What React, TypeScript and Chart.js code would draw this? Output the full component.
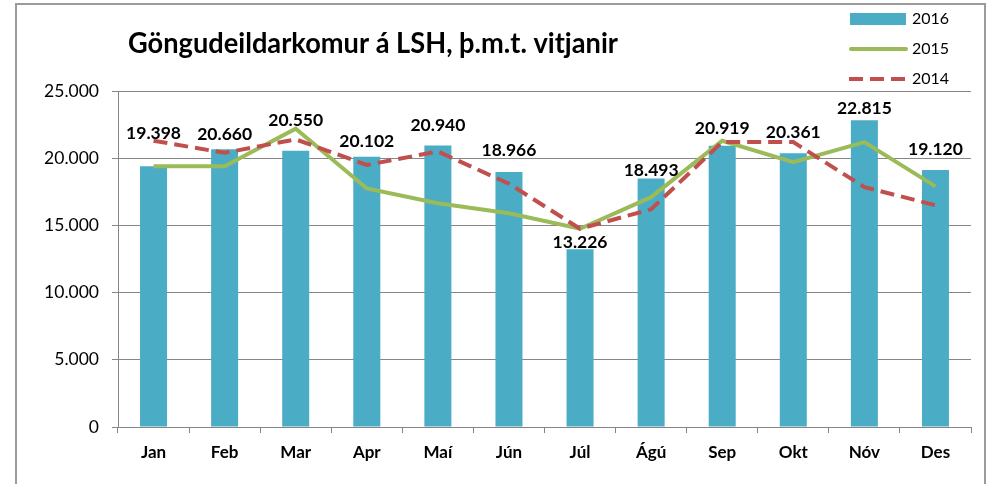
import React, { useEffect, useRef } from "react";
import { Chart, registerables } from "chart.js";

Chart.register(...registerables);

// ---- data ----
const months = ["Jan", "Feb", "Mar", "Apr", "Maí", "Jún", "Júl", "Ágú", "Sep", "Okt", "Nóv", "Des"];
const visits2016 = [19398, 20660, 20550, 20102, 20940, 18966, 13226, 18493, 20919, 20361, 22815, 19120];
const visits2015 = [19400, 19400, 22200, 17750, 16650, 15900, 14750, 17100, 21300, 19700, 21200, 17900];
const visits2014 = [21300, 20400, 21400, 19500, 20500, 18100, 14750, 16200, 21200, 21200, 17850, 16500];
const yTicks = [0, 5000, 10000, 15000, 20000, 25000];
const titleText = "Göngudeildarkomur á LSH, þ.m.t. vitjanir";

// ---- layout (label lift above each bar, px) ----
const labelLift = [33, 15, 30, 15, 20, 22, 7, 8, 17, 21, 12, 21];

const FONT = "Lato, 'Noto Sans', sans-serif";
const GRID = "#868686";
const BAR = "#4BACC6";
const GREEN = "#9BBB59";
const RED = "#C0504D";

const fmt = (v: number) => String(Math.round(v)).replace(/\B(?=(\d{3})+(?!\d))/g, ".");

const overlay = {
  id: "overlay",
  afterDatasetsDraw(chart: any) {
    const ctx = chart.ctx;
    const meta = chart.getDatasetMeta(0);
    ctx.save();
    ctx.font = `bold 17.5px ${FONT}`;
    ctx.fillStyle = "#000";
    ctx.textAlign = "center";
    ctx.textBaseline = "middle";
    meta.data.forEach((el: any, i: number) => {
      ctx.fillText(fmt(visits2016[i]), el.x, el.y - labelLift[i]);
    });
    ctx.restore();
  },
  afterDraw(chart: any) {
    const ctx = chart.ctx;
    // title
    ctx.save();
    ctx.font = `bold 28px ${FONT}`;
    ctx.fillStyle = "#000";
    ctx.textAlign = "left";
    ctx.textBaseline = "alphabetic";
    const w = ctx.measureText(titleText).width;
    const targetW = 490;
    ctx.translate(128, 53);
    if (w > targetW) ctx.scale(targetW / w, 1);
    ctx.fillText(titleText, 0, 0);
    ctx.restore();

    // legend
    const rows = [19, 49, 79];
    chart.data.datasets.forEach((ds: any, i: number) => {
      const y = rows[i];
      ctx.save();
      if (ds.type === "bar") {
        ctx.fillStyle = ds.backgroundColor;
        ctx.fillRect(850, y - 6, 56, 12);
      } else {
        ctx.strokeStyle = ds.borderColor;
        ctx.lineWidth = ds.borderWidth;
        ctx.setLineDash(ds.borderDash || []);
        ctx.lineCap = ds.borderDash ? "butt" : "round";
        ctx.beginPath();
        ctx.moveTo(ds.borderDash ? 849 : 851, y);
        ctx.lineTo(906, y);
        ctx.stroke();
      }
      ctx.setLineDash([]);
      ctx.font = `16px ${FONT}`;
      ctx.fillStyle = "#000";
      ctx.textAlign = "left";
      ctx.textBaseline = "middle";
      ctx.fillText(ds.label, 912, y);
      ctx.restore();
    });
  },
};

export default function App() {
  const ref = useRef<HTMLCanvasElement | null>(null);

  useEffect(() => {
    let chart: Chart | null = null;
    let cancelled = false;
    const make = () => {
      if (cancelled || !ref.current) return;
      chart = new Chart(ref.current, {
        type: "bar",
        data: {
          labels: months,
          datasets: [
            {
              type: "bar",
              label: "2016",
              data: visits2016,
              backgroundColor: BAR,
              borderWidth: 0,
              barPercentage: 0.38,
              categoryPercentage: 1,
              order: 3,
            } as any,
            {
              type: "line",
              label: "2015",
              data: visits2015,
              borderColor: GREEN,
              backgroundColor: GREEN,
              borderWidth: 4,
              pointRadius: 0,
              tension: 0,
              order: 2,
            } as any,
            {
              type: "line",
              label: "2014",
              data: visits2014,
              borderColor: RED,
              backgroundColor: RED,
              borderWidth: 4,
              borderDash: [14, 7],
              pointRadius: 0,
              tension: 0,
              order: 1,
            } as any,
          ],
        },
        options: {
          animation: false,
          responsive: false,
          events: [],
          layout: { padding: { top: 91, right: 19, left: 0, bottom: 0 } },
          plugins: {
            legend: { display: false },
            title: { display: false },
            tooltip: { enabled: false },
          },
          scales: {
            x: {
              grid: {
                display: true,
                drawOnChartArea: false,
                drawTicks: true,
                tickLength: 6,
                color: GRID,
                offset: true,
              },
              border: { display: true, color: GRID },
              ticks: {
                color: "#000",
                padding: 9,
                font: { family: FONT, size: 17, weight: "bold" },
                maxRotation: 0,
              },
              afterFit: (s: any) => {
                s.height = 57;
              },
            },
            y: {
              min: 0,
              max: 25000,
              afterBuildTicks: (s: any) => {
                s.ticks = yTicks.map((v) => ({ value: v }));
              },
              grid: { color: GRID, tickLength: 6 },
              border: { display: true, color: GRID },
              ticks: {
                color: "#000",
                padding: 13,
                font: { family: FONT, size: 17.5 },
                callback: (v: any) => fmt(Number(v)),
              },
              afterFit: (s: any) => {
                s.width = 118;
              },
            },
          },
        } as any,
        plugins: [overlay],
      });
    };
    const fonts: any = (document as any).fonts;
    if (fonts && fonts.load) {
      Promise.all([
        fonts.load(`bold 16px Lato`),
        fonts.load(`16px Lato`),
        fonts.load(`bold 28px Lato`),
      ])
        .catch(() => {})
        .then(make);
    } else {
      make();
    }
    return () => {
      cancelled = true;
      if (chart) chart.destroy();
    };
  }, []);

  return (
    <div
      style={{
        position: "absolute",
        left: 0,
        top: 0,
        width: 990,
        height: 484,
        overflow: "hidden",
        background: "#fff",
      }}
    >
      <canvas ref={ref} width={990} height={484} style={{ display: "block", width: 990, height: 484 }} />
      <div
        style={{
          position: "absolute",
          left: 15,
          top: 3,
          width: 967,
          height: 520,
          border: "2px solid #9b9b9b",
          pointerEvents: "none",
        }}
      />
    </div>
  );
}
